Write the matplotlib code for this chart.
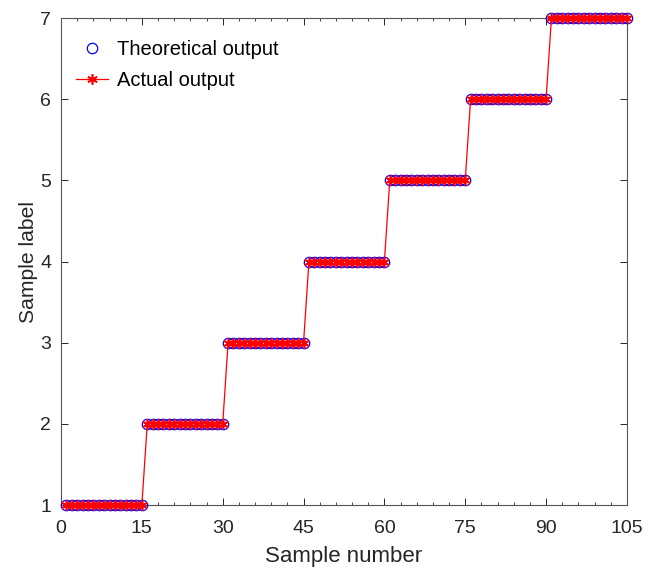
import matplotlib
matplotlib.use('Agg')
import matplotlib.pyplot as plt
import numpy as np
from matplotlib.ticker import MultipleLocator

# sample labels, 15 samples per class
sample_number = np.arange(1, 106)
theoretical_output = [1]*15 + [2]*15 + [3]*15 + [4]*15 + [5]*15 + [6]*15 + [7]*15
actual_output = [1]*15 + [2]*15 + [3]*15 + [4]*15 + [5]*15 + [6]*15 + [7]*15

x_ticks = [0, 15, 30, 45, 60, 75, 90, 105]
y_ticks = [1, 2, 3, 4, 5, 6, 7]

plt.rcParams['font.family'] = ['Liberation Sans', 'DejaVu Sans']
axcol = '#262626'

fig = plt.figure(figsize=(6.59, 5.68), dpi=100)
ax = fig.add_axes([0.0926, 0.1109, 0.8587, 0.8574])

ax.plot(sample_number, theoretical_output, linestyle='none', marker='o',
        markersize=7.5, markerfacecolor='none', markeredgecolor='blue',
        markeredgewidth=0.9, label='Theoretical output', clip_on=False,
        zorder=3)
ax.plot(sample_number, actual_output, color='red', linewidth=0.9,
        marker=(6, 2, 0), markersize=7.5, markeredgewidth=1.2,
        label='Actual output', clip_on=False, zorder=4)

ax.set_xlim(0, 105)
ax.set_ylim(1, 7)
ax.set_xticks(x_ticks)
ax.set_yticks(y_ticks)
ax.xaxis.set_minor_locator(MultipleLocator(3))

ax.tick_params(which='both', direction='in', top=True, right=True,
               colors=axcol, labelsize=14, labelcolor=axcol)
ax.tick_params(which='major', length=5, width=0.7)
ax.tick_params(axis='x', which='major', pad=11)
ax.tick_params(axis='y', which='major', pad=7)
ax.tick_params(which='minor', length=2.5, width=0.6)
for sp in ax.spines.values():
    sp.set_color('#555555')
    sp.set_linewidth(0.8)

ax.set_xlabel('Sample number', fontsize=16, color=axcol, labelpad=6)
ax.set_ylabel('Sample label', fontsize=15.2, color=axcol, labelpad=2)

ax.legend(loc='upper left', frameon=False, fontsize=14.5, handlelength=1.6,
          handletextpad=0.45, borderpad=0, borderaxespad=0,
          labelspacing=0.6, bbox_to_anchor=(0.026, 0.955))

fig.savefig('out.png', dpi=100)
